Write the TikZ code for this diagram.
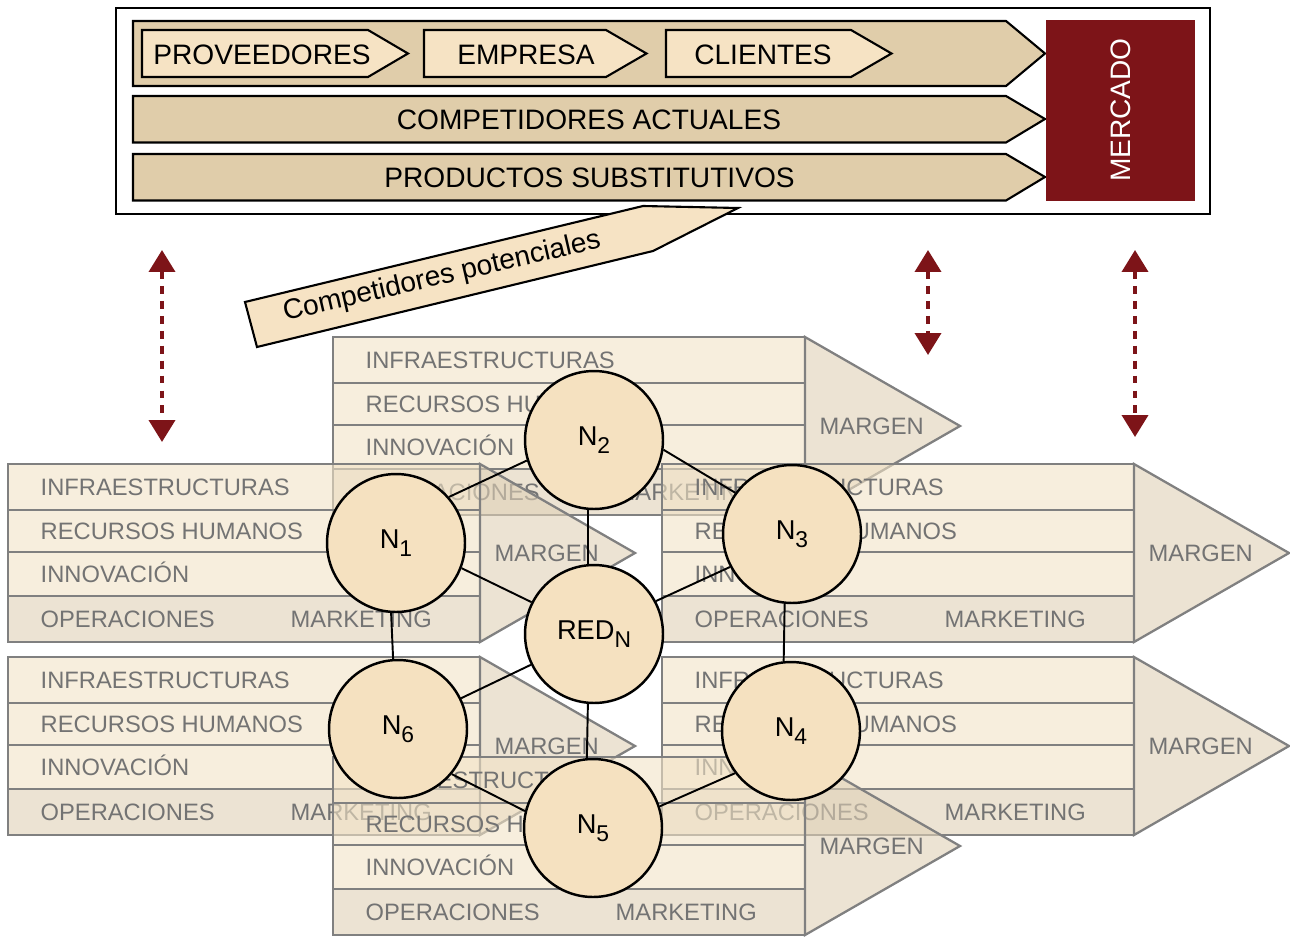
\documentclass[tikz,border=0pt]{standalone}
\usepackage{fontspec}
\setmainfont{Liberation Sans}
\usetikzlibrary{arrows.meta}
\definecolor{tanfila}{RGB}{224,205,170}
\definecolor{tanclaro}{RGB}{246,227,196}
\definecolor{rojo}{RGB}{125,20,24}
\definecolor{nodofill}{RGB}{245,225,192}
\definecolor{cadfill}{RGB}{242,227,198}
\definecolor{opsfill}{RGB}{223,208,182}
\definecolor{bordegris}{RGB}{128,128,128}
\definecolor{etiqgris}{RGB}{115,115,115}
\tikzset{
	fila/.style={draw=bordegris, line width=1.3pt, fill=cadfill, fill opacity=0.6},
	filaops/.style={fila, fill=opsfill},
	etiq/.style={anchor=base west, text=etiqgris, inner sep=0pt, font=\fontsize{13.5pt}{16pt}\selectfont},
	flechasup/.style={draw=black, line width=1.2pt, fill=tanfila},
	flechaint/.style={draw=black, line width=1.2pt, fill=tanclaro},
	titulo/.style={inner sep=0pt, font=\fontsize{16pt}{19pt}\selectfont},
	nodo/.style={circle, draw=black, line width=1.4pt, fill=nodofill, minimum size=2.76cm, inner sep=0pt, font=\fontsize{15.5pt}{18pt}\selectfont},
	enlace/.style={line width=1.1pt},
	flechamercado/.style={draw=rojo, line width=2.2pt, dash pattern=on 4.5pt off 4pt,
		{Triangle[length=0.44cm, width=0.52cm]}-{Triangle[length=0.44cm, width=0.52cm]}}
}
\newcommand\sub[1]{\raisebox{-4.5pt}{\fontsize{13pt}{13pt}\selectfont #1}}
% cadena de valor: #1 nombre, (#2,#3) esquina superior izquierda
\newcommand\cadena[3]{%
	\begin{scope}[shift={(#2,#3)}]
		\draw[fila] (0,0) rectangle (472,46);
		\draw[fila] (0,46) rectangle (472,88);
		\draw[fila] (0,88) rectangle (472,132);
		\draw[filaops] (0,132) rectangle (472,178);
		\draw[filaops] (472,0) -- (627,89) -- (472,178) -- cycle;
		\node[etiq] (#1-infra) at (32,31.5) {INFRAESTRUCTURAS};
		\node[etiq] (#1-rrhh) at (32,75.5) {RECURSOS HUMANOS};
		\node[etiq] (#1-innov) at (32,118.5) {INNOVACIÓN};
		\node[etiq] (#1-oper) at (32,163.5) {OPERACIONES};
		\node[etiq] (#1-mkt) at (282,163.5) {MARKETING};
		\node[etiq] (#1-margen) at (486,97.5) {MARGEN};
	\end{scope}}

\begin{document}
\begin{tikzpicture}[x=0.02cm, y=-0.02cm, thick]
	\useasboundingbox (0,0) rectangle (1290,936);
	\draw[line width=1.3pt] (116,8) rectangle (1210,214);
	\draw[flechasup] (133,21) -- (1006,21) -- (1045,53.5) -- (1006,86) -- (133,86) -- cycle;
	\draw[flechasup] (133,96) -- (1006,96) -- (1045,119) -- (1006,142.5) -- (133,142.5) -- cycle;
	\draw[flechasup] (133,154) -- (1006,154) -- (1045,177) -- (1006,200.5) -- (133,200.5) -- cycle;
	\draw[flechaint] (142,30) -- (368,30) -- (408,53.5) -- (368,77) -- (142,77) -- cycle;
	\draw[flechaint] (424,30) -- (606,30) -- (646.5,53.5) -- (606,77) -- (424,77) -- cycle;
	\draw[flechaint] (666,30) -- (851,30) -- (891.5,53.5) -- (851,77) -- (666,77) -- cycle;
	\node[titulo] (proveedores) at (262,54.5) {PROVEEDORES};
	\node[titulo] (empresa) at (526,54.5) {EMPRESA};
	\node[titulo] (clientes) at (763,54.5) {CLIENTES};
	\node[titulo] (actuales) at (589,119.5) {COMPETIDORES ACTUALES};
	\node[titulo] (sustitutos) at (589.5,177.5) {PRODUCTOS SUBSTITUTIVOS};
	\fill[rojo] (1046,20) rectangle (1195,200.5);
	\node[titulo, text=white, rotate=90] (mercado) at (1120.5,110) {MERCADO};
	\draw[flechaint] (245,302) -- (643,206) -- (738,208) -- (653,251) -- (257,347) -- cycle;
	\node[titulo, rotate=13] (potenciales) at (442,277) {Competidores potenciales};

	\coordinate (izq1) at (162,250);
	\coordinate (izq2) at (162,442);
	\coordinate (cen1) at (928,250);
	\coordinate (cen2) at (928,355);
	\coordinate (der1) at (1135,250);
	\coordinate (der2) at (1135,437);
	\draw[flechamercado] (izq1) -- (izq2);
	\draw[flechamercado] (cen1) -- (cen2);
	\draw[flechamercado] (der1) -- (der2);

	\cadena{c2}{333}{337}
	\cadena{c1}{8}{464}
	\cadena{c3}{662}{464}
	\cadena{c6}{8}{657}
	\cadena{c4}{662}{657}
	\cadena{c5}{333}{757}

	\node[nodo] (N1) at (396,543) {N\sub{1}};
	\node[nodo] (N2) at (594,440) {N\sub{2}};
	\node[nodo] (N3) at (792,534) {N\sub{3}};
	\node[nodo] (N4) at (791,731) {N\sub{4}};
	\node[nodo] (N5) at (593,828) {N\sub{5}};
	\node[nodo] (N6) at (398,729) {N\sub{6}};
	\node[nodo] (red) at (594,634) {RED\sub{N}};

	\draw[enlace] (N1.41) -- (N2.197);
	\draw[enlace] (N2.352) -- (N3.144);
	\draw[enlace] (N1.339) -- (red.153);
	\draw[enlace] (N3.208) -- (red.28);
	\draw[enlace] (N6.26) -- (red.206);
	\draw[enlace] (N6.320) -- (N5.166);
	\draw[enlace] (N4.217) -- (N5.18);
	\draw[enlace] (N2.265) -- (red.95);
	\draw[enlace] (red.265) -- (N5.95);
	\draw[enlace] (N1.266) -- (N6.94);
	\draw[enlace] (N3.264) -- (N4.96);
\end{tikzpicture}
\end{document}
